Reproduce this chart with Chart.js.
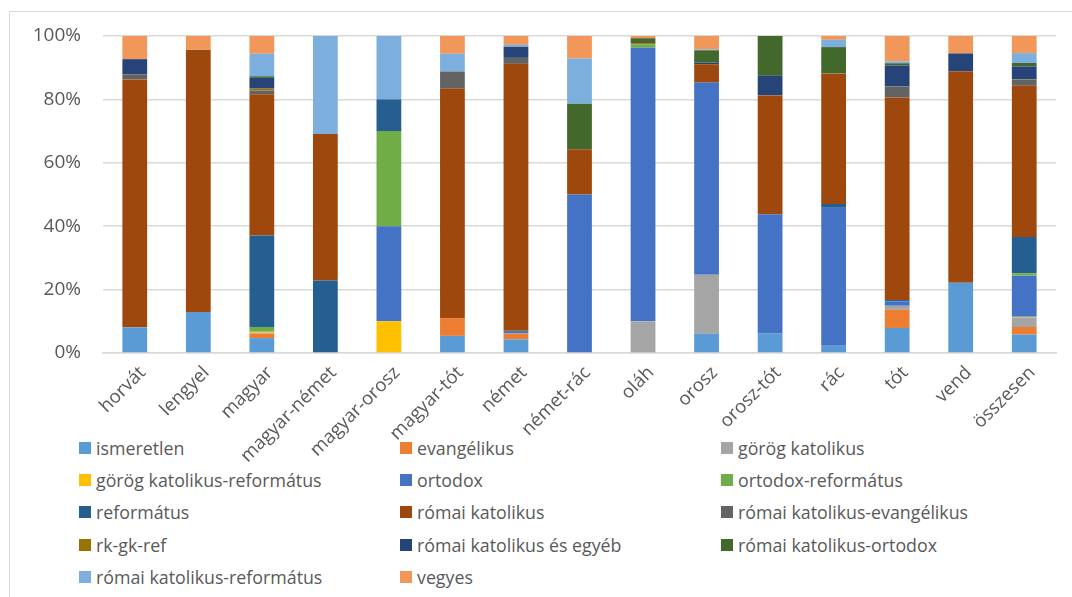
<!DOCTYPE html>
<html>
<head>
<meta charset="utf-8">
<script src="https://cdn.jsdelivr.net/npm/chart.js@4/dist/chart.umd.min.js"></script>
<style>
  body { margin: 0; background: #fff; font-family: "Open Sans", sans-serif; }
  #frame { position: absolute; left: 9px; top: 11px; width: 1100px; height: 620px;
           border-left: 1px solid #d9d9d9; border-top: 1px solid #d9d9d9; }
  #wrap { position: absolute; left: 0; top: 0; width: 1072px; height: 597px; }
  #legend-container { position: absolute; left: 79px; top: 432px; }
  #legend-container ul { display: grid; grid-template-columns: 321px 321px 321px;
                         grid-auto-rows: 32.2px; margin: 0; padding: 0; list-style: none; }
  #legend-container li { display: flex; align-items: center; color: #595959; font-size: 17.8px; }
  #legend-container span { display: inline-block; width: 12px; height: 12px; margin-right: 5px; }
</style>
</head>
<body>
<div id="frame"></div>
<div id="legend-container"></div>
<div id="wrap"><canvas id="DataChart" width="1072" height="597"></canvas></div>
<script>
const categories = ["horvát", "lengyel", "magyar", "magyar-német", "magyar-orosz", "magyar-tót",
  "német", "német-rác", "oláh", "orosz", "orosz-tót", "rác", "tót", "vend", "összesen"];

// share of each denomination (%) per ethnic group
const ismeretlen      = [8.1, 12.9, 4.7, 0, 0, 5.4, 4.3, 0, 0.3, 6.1, 6.25, 2.3, 7.9, 22.2, 5.8];
const evangelikus     = [0, 0, 1.4, 0, 0, 5.6, 1.7, 0, 0, 0, 0, 0, 5.7, 0, 2.4];
const gorogKat        = [0, 0, 0.3, 0, 0, 0, 0.3, 0, 9.7, 18.6, 0, 0, 1.3, 0, 3.0];
const gorogKatRef     = [0, 0, 0.3, 0, 10, 0, 0, 0, 0, 0, 0, 0, 0, 0, 0.2];
const ortodox         = [0, 0, 0, 0, 30, 0, 0.4, 50, 86.3, 60.6, 37.5, 43.5, 1.4, 0, 13.0];
const ortodoxRef      = [0, 0, 1.5, 0, 30, 0, 0, 0, 1.1, 0, 0, 0, 0, 0, 0.8];
const reformatus      = [0, 0, 28.9, 22.9, 10, 0, 0.3, 0, 0, 0, 0, 1.2, 0.4, 0, 11.4];
const romaiKat        = [78.2, 82.8, 44.5, 46.2, 0, 72.4, 84.2, 14.3, 0.3, 5.8, 37.5, 41.2, 63.9, 66.7, 47.7];
const rkEvang         = [1.6, 0, 1.2, 0, 0, 5.4, 1.9, 0, 0, 0, 0, 0, 3.5, 0, 1.9];
const rkGkRef         = [0, 0, 0.6, 0, 0, 0, 0, 0, 0, 0, 0, 0, 0, 0, 0.1];
const rkEgyeb         = [4.8, 0, 3.4, 0, 0, 0, 3.5, 0, 0, 0.5, 6.25, 0, 6.6, 5.6, 4.1];
const rkOrtodox       = [0, 0, 0.5, 0, 0, 0, 0, 14.3, 1.6, 3.9, 12.5, 8.3, 0.7, 0, 1.1];
const rkRef           = [0, 0, 7.1, 30.9, 20, 5.6, 0.6, 14.3, 0, 0.3, 0, 2.3, 0.6, 0, 3.1];
const vegyes          = [7.3, 4.3, 5.6, 0, 0, 5.6, 2.8, 7.1, 0.7, 4.2, 0, 1.2, 8.0, 5.6, 5.7];

const yTicks = [0, 20, 40, 60, 80, 100];

const series = [
  ["ismeretlen", ismeretlen, "#5B9BD5"],
  ["evangélikus", evangelikus, "#ED7D31"],
  ["görög katolikus", gorogKat, "#A5A5A5"],
  ["görög katolikus-református", gorogKatRef, "#FFC000"],
  ["ortodox", ortodox, "#4472C4"],
  ["ortodox-református", ortodoxRef, "#70AD47"],
  ["református", reformatus, "#255E91"],
  ["római katolikus", romaiKat, "#9E480E"],
  ["római katolikus-evangélikus", rkEvang, "#636363"],
  ["rk-gk-ref", rkGkRef, "#997300"],
  ["római katolikus és egyéb", rkEgyeb, "#264478"],
  ["római katolikus-ortodox", rkOrtodox, "#43682B"],
  ["római katolikus-református", rkRef, "#7CAFDD"],
  ["vegyes", vegyes, "#F1975A"]
];

const chartData = {
  labels: categories,
  datasets: series.map(s => ({
    label: s[0], data: s[1], backgroundColor: s[2],
    borderWidth: 0, barPercentage: 0.39, categoryPercentage: 1
  }))
};

// legend laid out as a 3 column grid below the plot
const htmlLegendPlugin = {
  id: 'htmlLegend',
  afterUpdate(chart) {
    const box = document.getElementById('legend-container');
    box.innerHTML = '';
    const ul = document.createElement('ul');
    chart.options.plugins.legend.labels.generateLabels(chart).forEach(item => {
      const li = document.createElement('li');
      const sw = document.createElement('span');
      sw.style.background = item.fillStyle;
      li.appendChild(sw);
      li.appendChild(document.createTextNode(item.text));
      ul.appendChild(li);
    });
    box.appendChild(ul);
  }
};

const font = { family: "Open Sans", size: 19 };

new Chart(document.getElementById('DataChart'), {
  type: 'bar',
  data: chartData,
  options: {
    responsive: false,
    animation: false,
    layout: { padding: { top: 36, right: 16, left: 0, bottom: 124 } },
    scales: {
      x: {
        stacked: true,
        grid: { display: false, drawTicks: false },
        border: { color: '#d9d9d9', width: 1.5 },
        ticks: { color: '#595959', font: { family: "Open Sans", size: 18.5 },
                 minRotation: 45, maxRotation: 45, padding: 9, labelOffset: 8 },
        // tall enough that the rotated labels are not clipped
        afterFit: s => { s.height = 120; }
      },
      y: {
        stacked: true,
        min: 0, max: 100,
        afterBuildTicks: s => { s.ticks = yTicks.map(v => ({ value: v })); },
        grid: { color: '#d9d9d9', lineWidth: 1.5, drawTicks: false },
        border: { display: false },
        ticks: { color: '#595959', font: font, padding: 22, callback: v => v + '%' },
        afterFit: s => { s.width = 103; }
      }
    },
    plugins: {
      legend: { display: false },
      tooltip: { enabled: false }
    }
  },
  plugins: [htmlLegendPlugin]
});
</script>
</body>
</html>
